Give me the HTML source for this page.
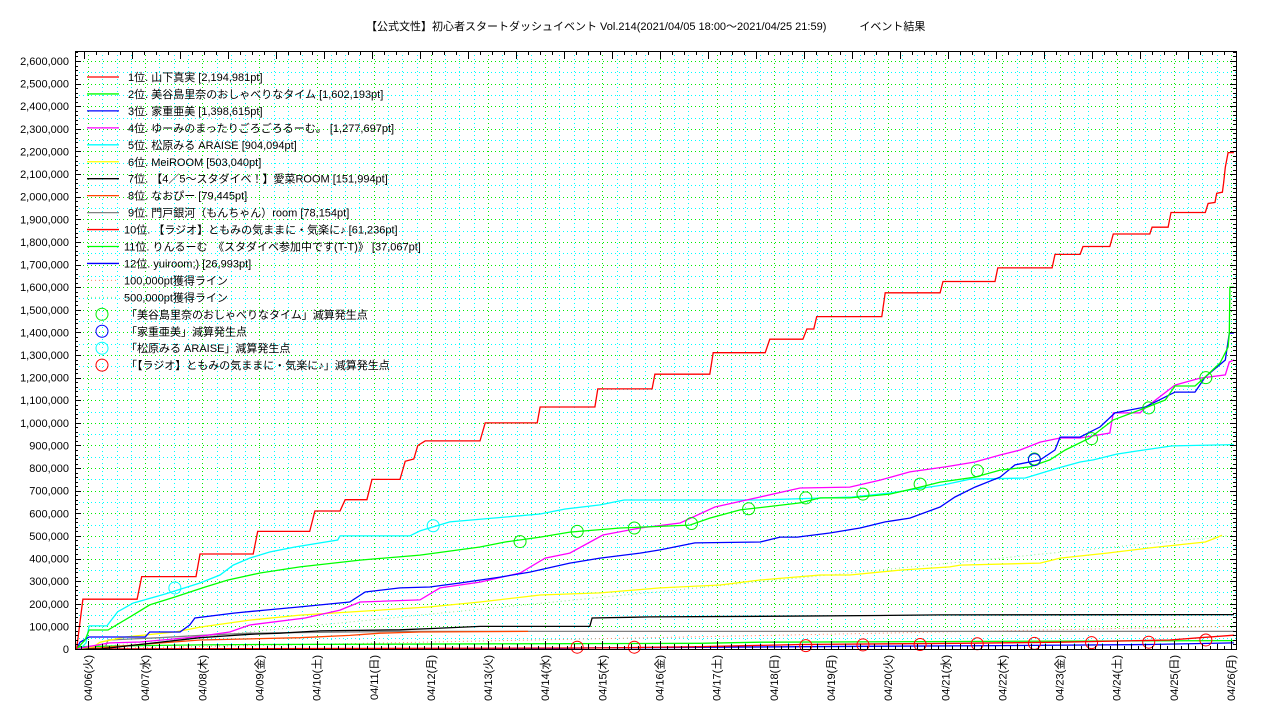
<!DOCTYPE html>
<html><head><meta charset="utf-8"><style>
html,body{margin:0;padding:0;background:#fff;}
svg{display:block;font-family:"Liberation Sans","Noto Sans CJK JP",sans-serif;}
</style></head><body>
<svg id="chart" width="1280" height="720" viewBox="0 0 1280 720" xmlns="http://www.w3.org/2000/svg">
<rect width="1280" height="720" fill="#fff"/>
<text x="366" y="30" font-size="11" fill="#000">【公式文性】初心者スタートダッシュイベント Vol.214(2021/04/05 18:00〜2021/04/25 21:59)　　　イベント結果</text>
<g id="grid" shape-rendering="crispEdges"></g><g id="refs"></g><g id="series"></g><g id="markers"></g><g id="axes"></g><g id="legend"></g>
</svg>
<script>
// time in days from 04/06 00:00, values in thousands of points
const dayLabels=["04/06(火)","04/07(水)","04/08(木)","04/09(金)","04/10(土)","04/11(日)","04/12(月)","04/13(火)","04/14(水)","04/15(木)","04/16(金)","04/17(土)","04/18(日)","04/19(月)","04/20(火)","04/21(水)","04/22(木)","04/23(金)","04/24(土)","04/25(日)","04/26(月)"];
const yTicks=[0,100,200,300,400,500,600,700,800,900,1000,1100,1200,1300,1400,1500,1600,1700,1800,1900,2000,2100,2200,2300,2400,2500,2600];
const seriesNames=["1位. 山下真実 [2,194,981pt]","2位. 美谷島里奈のおしゃべりなタイム [1,602,193pt]","3位. 家重亜美 [1,398,615pt]","4位. ゆーみのまったりごろごろるーむ。 [1,277,697pt]","5位. 松原みる ARAISE [904,094pt]","6位. MeiROOM [503,040pt]","7位. 【4／5〜スタダイベ！】愛菜ROOM [151,994pt]","8位. なおぴー [79,445pt]","9位. 門戸銀河（もんちゃん）room [78,154pt]","10位. 【ラジオ】ともみの気ままに・気楽に♪ [61,236pt]","11位. りんるーむ　《スタダイベ参加中です(T-T)》 [37,067pt]","12位. yuiroom;) [26,993pt]"];
const seriesColors=["#ff0000","#00ff00","#0000ff","#ff00ff","#00ffff","#ffff00","#000000","#ff4500","#808080","#ff0000","#00ff00","#0000ff"];
const s1T=[-0.2,-0.09,0.86,0.94,1.89,1.96,2.89,2.97,3.88,3.97,4.41,4.5,4.88,4.97,5.46,5.55,5.7,5.77,5.9,6.86,6.95,7.86,7.91,8.87,8.92,9.87,9.92,10.88,10.94,11.85,11.93,12.51,12.58,12.7,12.75,13.89,13.95,14.91,14.96,15.87,15.92,16.87,16.92,17.36,17.41,17.88,17.94,18.58,18.62,18.9,18.95,19.55,19.6,19.72,19.75,19.85,19.87,19.9,19.95,20.05];
const s1V=[0,220,220,320,320,420,420,520,520,610,610,660,660,750,750,830,840,900,920,920,1000,1000,1070,1070,1150,1150,1215,1215,1310,1310,1370,1370,1415,1415,1470,1470,1575,1575,1625,1625,1685,1685,1745,1745,1780,1780,1835,1835,1865,1865,1930,1930,1970,1975,2015,2020,2060,2130,2195,2195];
const s2T=[-0.2,-0.05,0.02,0.35,0.79,1.08,1.52,2.05,2.45,3.01,3.71,4.76,5.81,6.86,7.3,7.91,8.43,9.31,10.53,10.88,11.41,12.46,12.81,13.33,14.03,14.56,14.91,15.52,15.96,16.48,16.83,17.1,17.53,17.94,18.5,18.85,19.02,19.37,19.55,19.81,19.95,19.97,19.98,20.05];
const s2V=[0,40,84,84,150,195,230,274,305,336,363,393,415,451,473,495,517,535,548,579,615,646,668,668,685,716,738,760,791,805,836,880,933,1013,1066,1101,1163,1163,1203,1265,1335,1397,1600,1600];
const s3T=[-0.2,-0.14,-0.07,0.02,1.0,1.08,1.61,1.78,1.87,2.57,3.1,3.71,4.58,4.85,5.46,5.98,6.51,7.21,7.73,8.43,8.96,9.66,10.01,10.62,11.76,12.11,12.41,12.98,13.51,13.95,14.38,14.91,15.17,15.52,15.96,16.22,16.66,16.92,17.01,17.36,17.71,17.97,18.5,19.02,19.37,19.55,19.9,19.97,20.05];
const s3V=[0,30,40,53,53,75,75,106,137,159,172,186,208,252,270,274,292,318,340,380,402,424,438,469,473,495,495,513,535,562,579,628,672,716,760,814,836,880,937,937,982,1044,1070,1136,1136,1203,1278,1397,1397];
const s4T=[-0.2,0.0,0.38,0.91,1.87,2.48,2.83,3.8,4.41,4.76,5.81,6.16,6.86,7.56,8.0,8.43,9.01,9.66,10.36,10.97,11.76,12.46,13.33,13.86,14.38,15.0,15.52,15.96,16.31,16.66,17.01,17.36,17.88,17.94,18.41,18.5,19.02,19.46,19.9,19.97,20.05];
const s4V=[0,10,27,31,53,75,106,137,172,208,217,270,296,336,402,424,504,535,557,628,672,712,716,747,783,805,827,858,880,915,933,933,955,1044,1044,1066,1167,1198,1212,1269,1278];
const s5T=[-0.2,-0.14,-0.035,0.02,0.33,0.52,0.79,1.35,1.96,2.31,2.54,2.83,3.18,3.62,4.37,4.41,5.63,5.81,6.33,7.91,8.35,8.96,9.38,11.76,13.37,14.03,14.96,15.43,16.4,16.97,17.36,17.59,18.0,18.37,18.97,20.05];
const s5V=[0,0,27,102,102,165,203,243,292,327,371,402,429,451,482,500,500,522,562,597,619,637,659,659,672,690,725,751,756,800,827,836,862,876,898,904];
const s6T=[-0.2,0.1,0.21,0.65,1.52,1.96,2.83,3.71,5.11,5.98,6.86,7.91,8.96,10.01,11.06,11.76,12.81,13.33,14.21,15.08,15.26,16.66,17.01,17.83,18.58,19.55,19.77,19.84];
const s6V=[0,10,30,53,75,97,128,150,172,186,208,239,248,270,283,305,327,327,349,363,371,380,402,424,447,473,495,503];
const s7T=[-0.2,0.21,0.91,1.96,2.83,3.36,4.06,5.46,5.98,6.86,8.78,8.82,9.83,12.11,13.86,14.91,20.05];
const s7V=[0,0,20,50,65,70,80,85,90,100,100,137,142,145,148,151,152];
const s8T=[-0.2,0.21,0.91,1.96,3.71,4.58,5.11,5.81,7.70];
const s8V=[0,5,20,40,50,60,70,75,78];
const s9T=[-0.2,0.3,0.35,1.26,1.96,2.83,4.58,5.46,20.05];
const s9V=[0,5,40,50,60,70,75,78,78];
const s10T=[-0.2,8.96,10.71,12.46,15.26,17.01,18.93,19.46,20.05];
const s10V=[0,5,10,20,25,30,40,50,61];
const s11T=[-0.2,-0.14,0.21,0.91,1.96,3.01,10.71,11.76,17.01,20.05];
const s11V=[0,10,12,15,18,20,25,30,35,37];
const s12T=[-0.2,7.21,8.96,12.46,15.96,18.58,20.05];
const s12V=[0,0,5,10,15,20,27];
const seriesT=[s1T,s2T,s3T,s4T,s5T,s6T,s7T,s8T,s9T,s10T,s11T,s12T];
const seriesV=[s1V,s2V,s3V,s4V,s5V,s6V,s7V,s8V,s9V,s10V,s11V,s12V];
const mkGreenT=[7.56,8.56,9.56,10.56,11.56,12.56,13.56,14.56,15.56,16.56,17.56,18.56,19.56];
const mkGreenV=[475,520,535,555,620,668,685,729,788,840,930,1066,1200];
const mkBlueT=[16.56];
const mkBlueV=[837];
const mkCyanT=[1.52,6.04];
const mkCyanV=[270,545];
const mkRedT=[8.56,9.56,12.56,13.56,14.56,15.56,16.56,17.56,18.56,19.56];
const mkRedV=[8,8,15,18,20,23,25,28,30,40];
const refEndT=19.92;
const refTargets=[100,500];

const NS="http://www.w3.org/2000/svg";
const L=75,R=1236,T=51,B=649;
function xS(t){return 88+t*57.15;}
function yS(v){return B-v*0.22615;}
function mk(tag,attrs,parent){const e=document.createElementNS(NS,tag);for(const k in attrs)e.setAttribute(k,attrs[k]);parent.appendChild(e);return e;}
const grid=document.getElementById('grid'),axes=document.getElementById('axes'),ser=document.getElementById('series'),mkG=document.getElementById('markers'),leg=document.getElementById('legend'),refs=document.getElementById('refs');
for(let h=-6;h<=486;h+=6){const x=Math.round(xS(h/24))+0.5;if(x<L||x>R)continue;const major=h%24===0;
 const g=mk('line',{x1:x,x2:x,y1:T,y2:B,stroke:major?'#00ee00':'#00ffff','stroke-width':1,'stroke-dasharray':'1,3'},grid);
 
 }
for(let v=50;v<=2650;v+=50){const y=Math.round(yS(v))+0.5;if(y<T)continue;const major=v%100===0;
 const g=mk('line',{x1:L,x2:R,y1:y,y2:y,stroke:major?'#00ee00':'#00ffff','stroke-width':1,'stroke-dasharray':'1,3'},grid);
 
 }
refTargets.forEach((v,i)=>{const l=mk('line',{x1:L,y1:B,x2:xS(refEndT),y2:yS(v),stroke:i===0?'#ff8866':'#88ee88','stroke-width':1,'stroke-dasharray':'1,3'},refs);
 
 });
for(let i=seriesT.length-1;i>=0;i--){const pts=seriesT[i].map((t,j)=>Math.max(L,xS(t)).toFixed(1)+','+yS(seriesV[i][j]).toFixed(1)).join(' ');
 const p=mk('polyline',{points:pts,fill:'none',stroke:seriesColors[i],'stroke-width':1.3},ser);
 
 }
function circles(ts,vs,color,name){ts.forEach((t,j)=>{const c=mk('circle',{cx:xS(t),cy:yS(vs[j]),r:6,fill:'none',stroke:color,'stroke-width':1},mkG);
 
 });}
circles(mkGreenT,mkGreenV,'#00ee00','decrease-marker-rank-2');
circles(mkBlueT,mkBlueV,'#0000ff','decrease-marker-rank-3');
circles(mkCyanT,mkCyanV,'#00ffff','decrease-marker-rank-5');
circles(mkRedT,mkRedV,'#ff0000','decrease-marker-rank-10');
const fr=mk('rect',{x:L+0.5,y:T+0.5,width:R-L,height:B-T,fill:'none',stroke:'#000','stroke-width':1},axes);


for(let v=0;v<=2640;v+=20){const y=Math.round(yS(v))+0.5;if(y<T)continue;const len=v%100===0?6:3;
 mk('line',{x1:L,x2:L+len,y1:y,y2:y,stroke:'#000'},axes);mk('line',{x1:R,x2:R-len,y1:y,y2:y,stroke:'#000'},axes);}
yTicks.forEach(v=>{const t=mk('text',{x:69,y:yS(v)+4,'font-size':11,'text-anchor':'end',fill:'#000'},axes);t.textContent=(v*1000).toLocaleString('en-US');
 
 });
for(let h=-3;h<=489;h+=3){const x=Math.round(xS(h/24))+0.5;if(x<L||x>R)continue;const len=h%24===0?8:(h%6===0?5:3);mk('line',{x1:x,x2:x,y1:B,y2:B-len,stroke:'#000'},axes);}
for(let x=372-48*6;x<R;x+=12){if(x<=L)continue;const len=((x-372)%48===0)?8:4;mk('line',{x1:x+0.5,x2:x+0.5,y1:T,y2:T+len,stroke:'#000'},axes);}
dayLabels.forEach((s,i)=>{const x=xS(i);const t=mk('text',{x:0,y:0,'font-size':11,'text-anchor':'end',fill:'#000',transform:'translate('+(x+4)+',655) rotate(-90)'},axes);t.textContent=s;
 
 });
const legendExtra=["100,000pt獲得ライン","500,000pt獲得ライン"];
const circleLegend=["「美谷島里奈のおしゃべりなタイム」減算発生点","「家重亜美」減算発生点","「松原みる ARAISE」減算発生点","「【ラジオ】ともみの気ままに・気楽に♪」減算発生点"];
const circleColors=['#00ee00','#0000ff','#00ffff','#ff0000'];
let ly=77;
seriesNames.forEach((n,i)=>{const g=mk('g',{},leg);
 
 
 mk('line',{x1:87,x2:119,y1:ly,y2:ly,stroke:seriesColors[i],'stroke-width':1.3},g);
 const t=mk('text',{x:i>=9?124:128,y:ly+4,'font-size':11,fill:'#000'},g);t.textContent=n;ly+=16.95;});
legendExtra.forEach((n,i)=>{const g=mk('g',{},leg);
 
 
 mk('line',{x1:87,x2:119,y1:ly,y2:ly,stroke:i===0?'#ff8866':'#88ee88','stroke-dasharray':'1,3'},g);
 const t=mk('text',{x:124,y:ly+4,'font-size':11,fill:'#000'},g);t.textContent=n;ly+=16.95;});
circleLegend.forEach((n,i)=>{const g=mk('g',{},leg);
 
 
 mk('circle',{cx:102,cy:ly,r:6,fill:'none',stroke:circleColors[i]},g);
 const t=mk('text',{x:126,y:ly+4,'font-size':11,fill:'#000'},g);t.textContent=n;ly+=16.95;});
</script>
</body></html>
